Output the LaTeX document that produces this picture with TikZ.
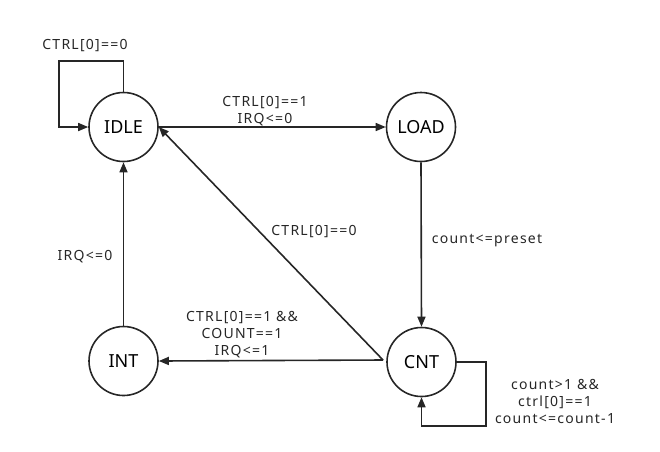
\documentclass[tikz,border=0pt]{standalone}
\usepackage{fontspec}
\setmainfont{Noto Sans}
\newfontfamily\lblfont[LetterSpace=9]{Noto Sans}
\usetikzlibrary{arrows.meta}
\begin{document}
\begin{tikzpicture}[x=1pt,y=-1pt,
  state/.style={circle,draw=black!85,line width=1.6pt,minimum size=69pt,inner sep=0pt,font=\fontsize{18}{20}\selectfont},
  conn/.style={draw=black!85,line width=1.6pt,-{Triangle[length=10pt,width=8pt]}},
  lbl/.style={font=\lblfont\fontsize{14}{17}\selectfont,text=black!85,align=center,inner sep=0pt}]
\useasboundingbox (0,0) rectangle (660,451);
\node[state] (IDLE) at (123.5,127) {IDLE};
\node[state] (LOAD) at (421,127) {LOAD};
\node[state] (INT) at (123.5,361) {INT};
\node[state] (CNT) at (421.5,362) {CNT};
\coordinate (cntw) at (383,360);
% IDLE self loop
\draw[conn] (IDLE.north) -- (123.5,61) -- (59,61) -- (59,127) -- (IDLE.west);
\node[lbl] (l1) at (85,46) {CTRL[0]==0};
% IDLE -> LOAD
\draw[conn] (IDLE.east) -- (LOAD.west);
\node[lbl] (l2) at (265,111) {CTRL[0]==1\\IRQ<=0};
% LOAD -> CNT
\draw[conn] (LOAD.south) -- (CNT.north);
\node[lbl] (l3) at (487,241) {count<=preset};
% CNT -> IDLE
\draw[conn] (cntw) -- (IDLE.east);
\node[lbl] (l4) at (314,232) {CTRL[0]==0};
% CNT -> INT
\draw[conn] (cntw) -- (INT.east);
\node[lbl] (l5) at (242,335) {CTRL[0]==1 \&\&\\COUNT==1\\IRQ<=1};
% INT -> IDLE
\draw[conn] (INT.north) -- (IDLE.south);
\node[lbl] (l6) at (85,257) {IRQ<=0};
% CNT self loop
\draw[conn] (CNT.east) -- (486,362) -- (486,426) -- (421.5,426) -- (CNT.south);
\node[lbl] (l7) at (555,401) {count>1 \&\&\\ctrl[0]==1\\count<=count-1};
\end{tikzpicture}
\end{document}
